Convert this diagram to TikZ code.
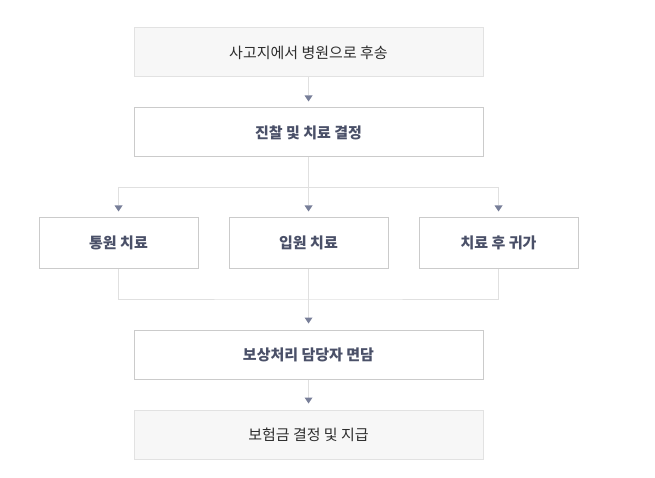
\documentclass[tikz,border=0pt]{standalone}
\usepackage{fontspec}
\newfontfamily\kr{Noto Sans CJK KR}
\usetikzlibrary{arrows.meta}
\definecolor{lightfill}{HTML}{F7F7F7}
\definecolor{lightborder}{HTML}{E2E2E2}
\definecolor{darkborder}{HTML}{CBCBCB}
\definecolor{plaintext}{HTML}{2E2E2E}
\definecolor{boldtext}{HTML}{4A5068}
\definecolor{linegray}{HTML}{E0E0E0}
\definecolor{tipcol}{HTML}{777E98}
\tikzset{
  x=1pt, y=-1pt,
  softbox/.style={draw=lightborder, fill=lightfill, line width=1pt, minimum width=349pt, minimum height=49pt, inner sep=0pt, font=\kr\fontsize{15}{17}\selectfont, text=plaintext},
  hardbox/.style={draw=darkborder, fill=white, line width=1pt, minimum height=49pt, inner sep=0pt, font=\kr\bfseries\fontsize{15}{17}\selectfont, text=boldtext},
  widebox/.style={hardbox, minimum width=349pt},
  smallbox/.style={hardbox, minimum width=159pt, minimum height=50pt},
  conn/.style={draw=linegray, line width=1pt},
  arr/.style={conn, -{Triangle[width=8pt,length=6pt,color=tipcol,line width=0pt]}, shorten >=6pt},
}
\begin{document}
\begin{tikzpicture}
\useasboundingbox (0,0) rectangle (655,478);
\node[softbox] (b1) at (308.5,52.5) {사고지에서 병원으로 후송};
\node[widebox] (b2) at (308.5,132.5) {진찰 및 치료 결정};
\node[smallbox] (t1) at (118.5,243) {통원 치료};
\node[smallbox] (t2) at (308.5,243) {입원 치료};
\node[smallbox] (t3) at (498.5,243) {치료 후 귀가};
\node[widebox] (b4) at (308.5,354.5) {보상처리 담당자 면담};
\node[softbox] (b5) at (308.5,434.5) {보험금 결정 및 지급};
\coordinate (split) at (308.5,188);
\coordinate (merge) at (308.5,299);
\draw[arr] (b1.south) -- (b2.north);
\draw[arr] (b2.south) -- (t2.north);
\draw[arr] (b2.south) -- (split) -| (t1.north);
\draw[arr] (split) -| (t3.north);
\draw[conn] (t1.south) |- (merge) -| (t3.south);
\draw[arr] (t2.south) -- (b4.north);
\draw[arr] (b4.south) -- (b5.north);
\end{tikzpicture}
\end{document}
